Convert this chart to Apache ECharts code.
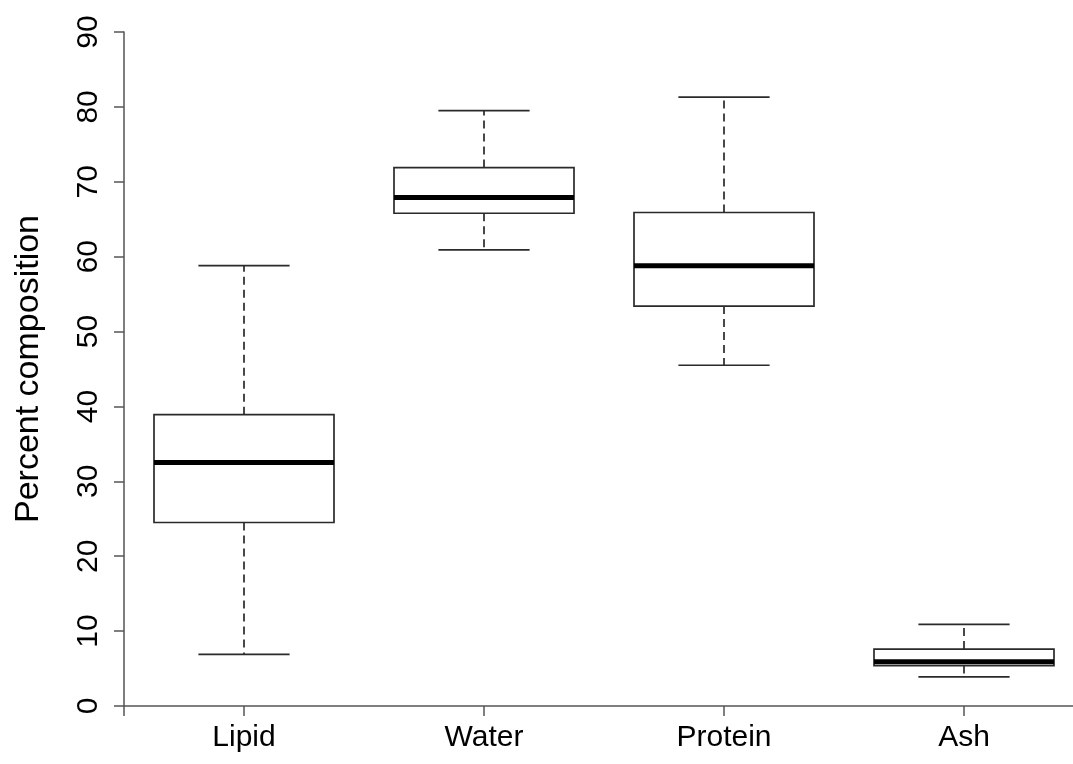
<!DOCTYPE html>
<html>
<head>
<meta charset="utf-8">
<style>
  html, body { margin: 0; padding: 0; background: #fff; }
  #chart { width: 1073px; height: 764px; }
</style>
<script src="https://cdn.jsdelivr.net/npm/echarts@6/dist/echarts.min.js"></script>
</head>
<body>
<div id="chart"></div>
<script>
// Five-number summaries for each component
const categories = ['Lipid', 'Water', 'Protein', 'Ash'];
const whiskerLow  = [6.9, 60.9, 45.5, 3.9];
const lowerQuart  = [24.5, 65.8, 53.4, 5.4];
const medians     = [32.5, 67.9, 58.8, 5.9];
const upperQuart  = [38.9, 71.9, 65.9, 7.6];
const whiskerHigh = [58.8, 79.5, 81.3, 10.9];

const yMin = 0, yMax = 90, yStep = 10;
const yTitle = 'Percent composition';

const FONT = '"Liberation Sans", Arial, Helvetica, sans-serif';
const INK = '#2a2a2a';

const boxData = categories.map((c, i) => [
  i, whiskerLow[i], lowerQuart[i], medians[i], upperQuart[i], whiskerHigh[i]
]);

function renderBox(params, api) {
  const i = api.value(0);
  const cx = api.coord([i, 0])[0];
  const band = api.size([1, 0])[0];
  const half = band * 0.375;
  const capHalf = band * 0.19;
  const y = k => api.coord([i, api.value(k)])[1];
  const yLo = y(1), yQ1 = y(2), yMed = y(3), yQ3 = y(4), yHi = y(5);
  const solid = { stroke: INK, lineWidth: 1.7, fill: null };
  const dashed = { stroke: INK, lineWidth: 1.7, lineDash: [8, 5], fill: null };
  return {
    type: 'group',
    children: [
      { type: 'line', shape: { x1: cx, y1: yQ3, x2: cx, y2: yHi }, style: dashed },
      { type: 'line', shape: { x1: cx, y1: yQ1, x2: cx, y2: yLo }, style: dashed },
      { type: 'line', shape: { x1: cx - capHalf, y1: yHi, x2: cx + capHalf, y2: yHi }, style: solid },
      { type: 'line', shape: { x1: cx - capHalf, y1: yLo, x2: cx + capHalf, y2: yLo }, style: solid },
      { type: 'rect', shape: { x: cx - half, y: yQ3, width: half * 2, height: yQ1 - yQ3 },
        style: { stroke: INK, lineWidth: 1.7, fill: '#fff' } },
      { type: 'line', shape: { x1: cx - half, y1: yMed, x2: cx + half, y2: yMed },
        style: { stroke: '#000', lineWidth: 5, fill: null } }
    ]
  };
}

const chart = echarts.init(document.getElementById('chart'), null, { renderer: 'canvas' });
chart.setOption({
  backgroundColor: '#fff',
  animation: false,
  grid: {
    left: 124, width: 960, top: 32, bottom: 58,
    containLabel: false,
    outerBoundsMode: 'none'
  },
  xAxis: [
    {
      type: 'category',
      data: categories,
      boundaryGap: true,
      axisLine: { show: true, lineStyle: { color: '#555', width: 1.5 } },
      axisTick: { show: true, alignWithLabel: true, length: 10, lineStyle: { color: '#555', width: 1.5 } },
      axisLabel: { show: true, margin: 17, fontSize: 30, fontFamily: FONT, color: '#000' },
      splitLine: { show: false }
    },
    {
      // end ticks of the horizontal axis at the band boundaries
      type: 'value',
      position: 'bottom',
      min: 0, max: 4, interval: 4,
      axisLine: { show: false },
      axisTick: { show: true, length: 10, lineStyle: { color: '#555', width: 1.5 } },
      axisLabel: { show: false },
      splitLine: { show: false }
    }
  ],
  yAxis: {
    type: 'value',
    min: yMin, max: yMax, interval: yStep,
    name: yTitle,
    nameLocation: 'middle',
    nameRotate: 90,
    nameGap: 78,
    nameTextStyle: { fontSize: 34, fontFamily: FONT, color: '#000' },
    axisLine: { show: true, lineStyle: { color: '#555', width: 1.5 } },
    axisTick: { show: true, length: 10, lineStyle: { color: '#555', width: 1.5 } },
    axisLabel: { rotate: 90, margin: 20, fontSize: 30, fontFamily: FONT, color: '#000' },
    splitLine: { show: false }
  },
  series: [{
    type: 'custom',
    xAxisIndex: 0,
    renderItem: renderBox,
    encode: { x: 0, y: [1, 2, 3, 4, 5] },
    data: boxData,
    clip: false
  }]
});
</script>
</body>
</html>
